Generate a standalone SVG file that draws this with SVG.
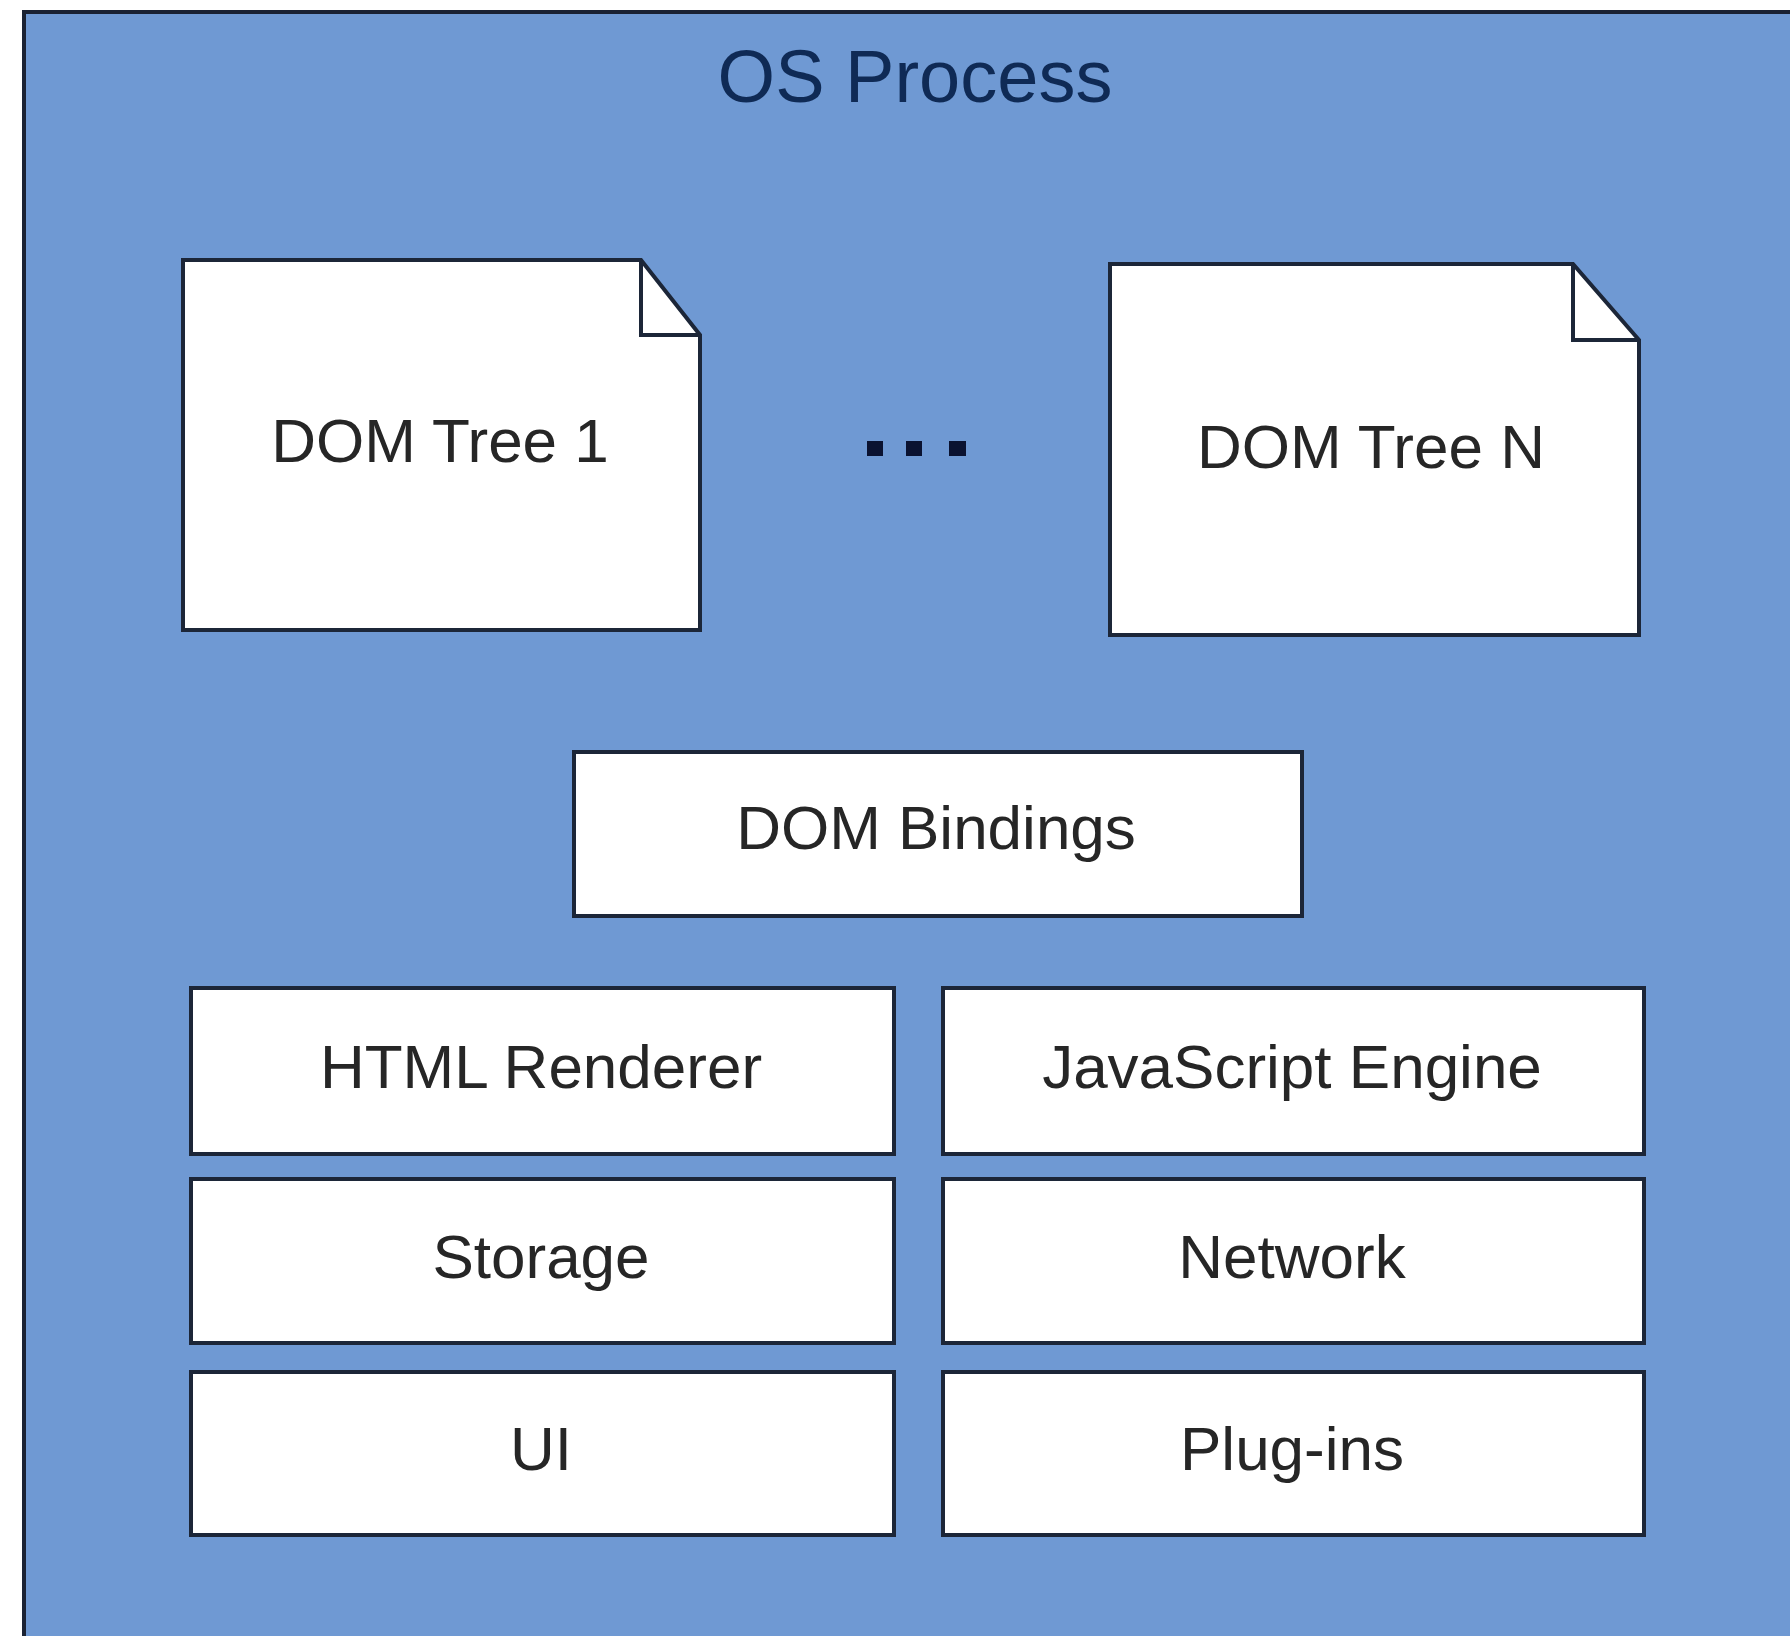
<svg xmlns="http://www.w3.org/2000/svg" width="1790" height="1636" viewBox="0 0 1790 1636">
<style>
.box{fill:#ffffff;stroke:#1c2638;stroke-width:4;stroke-linejoin:miter}
.fold{fill:none;stroke:#1c2638;stroke-width:4}
.lbl{font-family:"Liberation Sans",Arial,sans-serif;font-size:62px;fill:#262626;text-anchor:middle}
.title{font-family:"Liberation Sans",Arial,sans-serif;font-size:74px;fill:#0f2a55;text-anchor:middle}
.dot{fill:#0a1230}
</style>
<rect width="1790" height="1636" fill="#ffffff"/>
<g id="os-process">
<rect x="24" y="12" width="1800" height="1700" fill="#6f99d3" stroke="#1a2233" stroke-width="4"/>
<text class="title" x="915" y="102">OS Process</text>
</g>
<g id="connectors"></g>
<g id="dom-tree-1">
<path class="box" d="M183,260 H641 L700,335 V630 H183 Z"/>
<path class="fold" d="M641,260 V335 H700"/>
<text class="lbl" x="440" y="462">DOM Tree 1</text>
</g>
<g id="ellipsis">
<rect class="dot" x="867" y="441" width="16" height="15"/>
<rect class="dot" x="906" y="441" width="16" height="15"/>
<rect class="dot" x="949" y="441" width="17" height="15"/>
</g>
<g id="dom-tree-n">
<path class="box" d="M1110,264 H1573 L1639,340 V635 H1110 Z"/>
<path class="fold" d="M1573,264 V340 H1639"/>
<text class="lbl" x="1371" y="468">DOM Tree N</text>
</g>
<g id="dom-bindings">
<rect class="box" x="574" y="752" width="728" height="164"/>
<text class="lbl" x="936" y="849">DOM Bindings</text>
</g>
<g id="html-renderer">
<rect class="box" x="191" y="988" width="703" height="166"/>
<text class="lbl" x="541" y="1088">HTML Renderer</text>
</g>
<g id="javascript-engine">
<rect class="box" x="943" y="988" width="701" height="166"/>
<text class="lbl" x="1292" y="1088">JavaScript Engine</text>
</g>
<g id="storage">
<rect class="box" x="191" y="1179" width="703" height="164"/>
<text class="lbl" x="541" y="1278">Storage</text>
</g>
<g id="network">
<rect class="box" x="943" y="1179" width="701" height="164"/>
<text class="lbl" x="1292" y="1278">Network</text>
</g>
<g id="ui">
<rect class="box" x="191" y="1372" width="703" height="163"/>
<text class="lbl" x="541" y="1470">UI</text>
</g>
<g id="plug-ins">
<rect class="box" x="943" y="1372" width="701" height="163"/>
<text class="lbl" x="1292" y="1470">Plug-ins</text>
</g>
</svg>
